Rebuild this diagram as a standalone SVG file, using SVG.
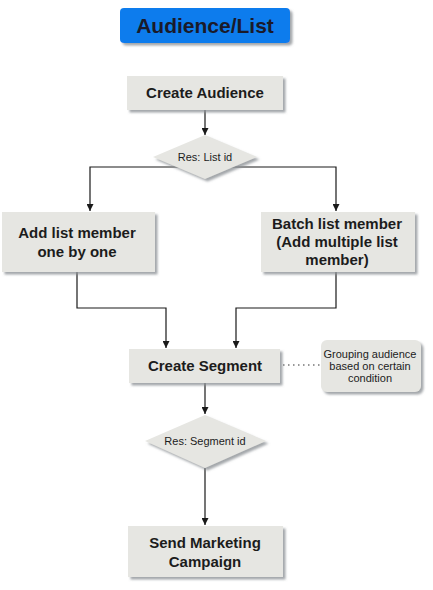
<svg xmlns="http://www.w3.org/2000/svg" width="433" height="590" viewBox="0 0 433 590">
<defs>
<style>
.box{fill:#e6e6e2;filter:url(#sh)}
.t{font-family:"Liberation Sans",Arial,sans-serif;font-weight:bold;font-size:15px;fill:#1c1c1c;text-anchor:middle}
.s{font-family:"Liberation Sans",Arial,sans-serif;font-size:11px;fill:#1c1c1c;text-anchor:middle}
.n{font-family:"Liberation Sans",Arial,sans-serif;font-size:11px;fill:#1c1c1c;text-anchor:middle}
.c{fill:none;stroke:#1a1a1a;stroke-width:1.2}
</style>
<filter id="sh" x="-10%" y="-10%" width="130%" height="140%">
<feDropShadow dx="2.5" dy="2.5" stdDeviation="0.8" flood-color="#8c9296" flood-opacity="0.8"/>
</filter>
<marker id="a" viewBox="0 0 10 10" refX="10" refY="5" markerWidth="7" markerHeight="7" markerUnits="userSpaceOnUse" orient="auto">
<path d="M0,0 L10,5 L0,10 z" fill="#1a1a1a"/>
</marker>
</defs>
<rect width="433" height="590" fill="#ffffff"/>
<g id="connectors">
<line class="c" x1="205" y1="110" x2="205" y2="135" marker-end="url(#a)"/>
<polyline class="c" points="205,167 90,167 90,211" marker-end="url(#a)"/>
<polyline class="c" points="205,167 336,167 336,211" marker-end="url(#a)"/>
<polyline class="c" points="77,272 77,308 166,308 166,348" marker-end="url(#a)"/>
<polyline class="c" points="336,272 336,308 236,308 236,348" marker-end="url(#a)"/>
<line class="c" x1="205" y1="383" x2="205" y2="414" marker-end="url(#a)"/>
<line class="c" x1="205" y1="468" x2="205" y2="525" marker-end="url(#a)"/>
<line x1="283" y1="365" x2="320" y2="365" stroke="#333" stroke-width="1.2" stroke-dasharray="1.5,3.5"/>
</g>
<g id="title">
<rect x="120" y="8" width="170" height="35" rx="4" fill="#0f7ced" filter="url(#sh)"/>
<text x="205" y="33" font-family="'Liberation Sans',Arial,sans-serif" font-size="21" font-weight="bold" fill="#1a1a2a" text-anchor="middle">Audience/List</text>
</g>
<g id="create-audience">
<rect class="box" x="127" y="76" width="156" height="34"/>
<text class="t" x="205" y="98">Create Audience</text>
</g>
<g id="res-list-id">
<polygon class="box" points="205,135 257,157 205,179 153,157"/>
<text class="s" x="205" y="161">Res: List id</text>
</g>
<g id="add-one">
<rect class="box" x="2" y="212" width="153" height="60"/>
<text class="t" x="77" y="238">Add list member</text>
<text class="t" x="77" y="257">one by one</text>
</g>
<g id="batch">
<rect class="box" x="261" y="212" width="154" height="60"/>
<text class="t" x="337" y="229">Batch list member</text>
<text class="t" x="337" y="247">(Add multiple list</text>
<text class="t" x="337" y="265">member)</text>
</g>
<g id="create-segment">
<rect class="box" x="129" y="349" width="151" height="34"/>
<text class="t" x="205" y="371">Create Segment</text>
</g>
<g id="note">
<rect class="box" x="321" y="340" width="100" height="52" rx="6"/>
<text class="n" x="370" y="358">Grouping audience</text>
<text class="n" x="370" y="370">based on certain</text>
<text class="n" x="370" y="382">condition</text>
</g>
<g id="res-segment-id">
<polygon class="box" points="205,415 266,441 205,468 145,441"/>
<text class="s" x="205" y="445">Res: Segment id</text>
</g>
<g id="send-campaign">
<rect class="box" x="128" y="526" width="155" height="51"/>
<text class="t" x="205" y="548">Send Marketing</text>
<text class="t" x="205" y="567">Campaign</text>
</g>
</svg>
